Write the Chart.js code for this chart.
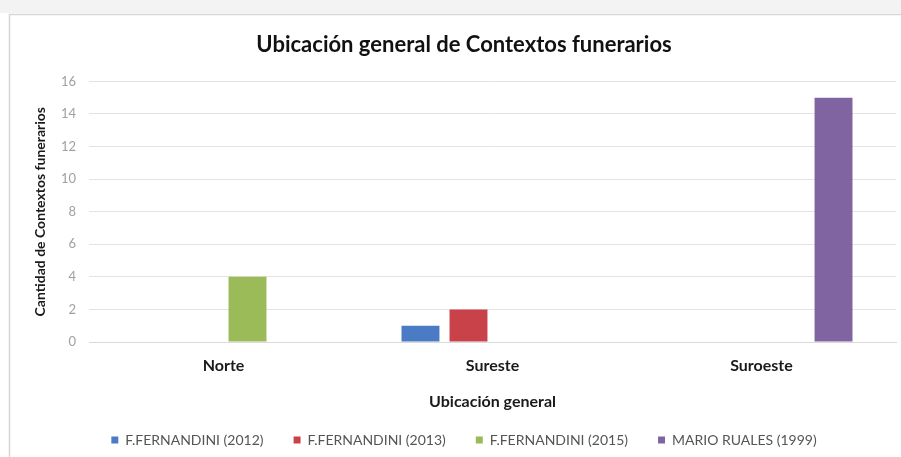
<!DOCTYPE html>
<html lang="es">
<head>
  <meta charset="UTF-8" />
  <title>Ubicación general de Contextos funerarios</title>
  <script src="https://cdn.jsdelivr.net/npm/chart.js"></script>
  <style>
    html, body {
      margin: 0;
      padding: 0;
      background: #fff;
    }
    #wrap {
      width: 901px;
      height: 457px;
    }
  </style>
</head>
<body>
  <div id="wrap">
    <canvas id="grafico" width="901" height="457"></canvas>
  </div>

  <script>
    // datos
    const categorias = ['Norte', 'Sureste', 'Suroeste'];
    const series = ['F.FERNANDINI (2012)', 'F.FERNANDINI (2013)', 'F.FERNANDINI (2015)', 'MARIO RUALES (1999)'];
    const fernandini2012 = [null, 1, null];
    const fernandini2013 = [null, 2, null];
    const fernandini2015 = [4, null, null];
    const ruales1999 = [null, null, 15];
    const ticksY = [0, 2, 4, 6, 8, 10, 12, 14, 16];

    const colores = ['#4a7bc4', '#c9424a', '#9bbb59', '#8064a2'];
    const valores = [fernandini2012, fernandini2013, fernandini2015, ruales1999];

    const fuente = 'Lato, "Open Sans", sans-serif';

    // fondo blanco y marco gris claro del grafico original
    const fondoMarco = {
      id: 'fondoMarco',
      beforeDraw(chart) {
        const ctx = chart.ctx;
        ctx.save();
        ctx.fillStyle = '#fff';
        ctx.fillRect(0, 0, chart.width, chart.height);
        ctx.fillStyle = '#f3f3f3';
        ctx.fillRect(0, 0, chart.width, 13);
        ctx.strokeStyle = '#d6d6d6';
        ctx.lineWidth = 1.5;
        ctx.beginPath();
        ctx.moveTo(9.5, chart.height);
        ctx.lineTo(9.5, 14.5);
        ctx.lineTo(chart.width, 14.5);
        ctx.stroke();
        ctx.restore();
      }
    };

    const ctx = document.getElementById('grafico').getContext('2d');
    new Chart(ctx, {
      type: 'bar',
      data: {
        labels: categorias,
        datasets: series.map((nombre, i) => ({
          label: nombre,
          data: valores[i],
          backgroundColor: colores[i],
          barPercentage: 0.79,
          categoryPercentage: 0.714
        }))
      },
      options: {
        responsive: false,
        animation: false,
        layout: {
          padding: { left: 32, right: 5, top: 0, bottom: 0 }
        },
        scales: {
          x: {
            grid: { display: false, drawTicks: false },
            border: { color: '#d9d9d9' },
            ticks: {
              padding: 14,
              color: '#1a1a1a',
              font: { family: fuente, size: 16, weight: 'bold' }
            },
            title: {
              display: true,
              text: 'Ubicación general',
              color: '#1a1a1a',
              padding: { top: 0, bottom: -8 },
              font: { family: fuente, size: 16, weight: 'bold' }
            },
            afterFit(axis) { axis.height = 61; }
          },
          y: {
            min: 0,
            max: 16,
            afterBuildTicks(axis) { axis.ticks = ticksY.map(v => ({ value: v })); },
            grid: { color: '#e3e3e3', drawTicks: false },
            border: { display: false },
            ticks: {
              padding: 13,
              color: '#a0a0a0',
              font: { family: fuente, size: 13 }
            },
            title: {
              display: true,
              text: 'Cantidad de Contextos funerarios',
              color: '#1a1a1a',
              padding: { top: 0, bottom: 0 },
              font: { family: fuente, size: 14, weight: 'bold' }
            },
            afterFit(axis) { axis.width = 57; }
          }
        },
        plugins: {
          title: {
            display: true,
            text: 'Ubicación general de Contextos funerarios',
            color: '#111',
            padding: { top: 32, bottom: 23 },
            font: { family: fuente, size: 22, weight: 'bold' }
          },
          legend: {
            position: 'bottom',
            labels: {
              boxWidth: 7,
              boxHeight: 7,
              padding: 30,
              color: '#555',
              font: { family: fuente, size: 14 }
            }
          },
          tooltip: { enabled: false }
        }
      },
      plugins: [fondoMarco]
    });
  </script>
</body>
</html>
